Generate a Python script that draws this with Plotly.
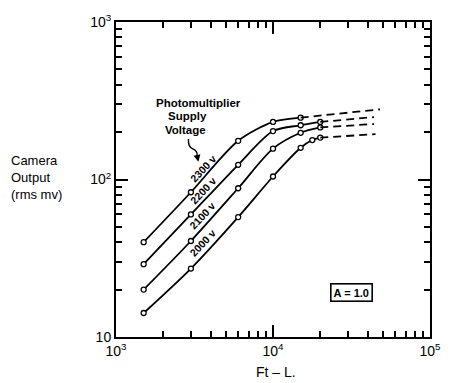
import plotly.graph_objects as go
import numpy as np

# ---- data ----
x_2300 = [1500, 3000, 6000, 10000, 15000]
y_2300 = [40, 83, 176, 232, 247]
x_2200 = [1500, 3000, 6000, 10000, 15000, 20000]
y_2200 = [29, 60, 124, 203, 221, 232]
x_2100 = [1500, 3000, 6000, 10000, 15000, 20000]
y_2100 = [20, 40.7, 88, 157, 198, 214]
x_2000 = [1500, 3000, 6000, 10000, 15000, 17800, 20000]
y_2000 = [14.2, 27.2, 57.7, 104.5, 159, 178, 184.5]

# dashed extrapolations (end points)
ext_x = {"2300": 48000, "2200": 44000, "2100": 44000, "2000": 45000}
ext_y = {"2300": 279, "2200": 249, "2100": 225, "2000": 194}

series_names = ["2300", "2200", "2100", "2000"]
series_labels = ["2300 v", "2200 v", "2100 v", "2000 v"]

x_tickvals = [1e3, 1e4, 1e5]
x_ticktext = ["10<sup>3</sup>", "10<sup>4</sup>", "10<sup>5</sup>"]
y_tickvals = [10, 100, 1000]
y_ticktext = ["10", "10<sup>2</sup>", "10<sup>3</sup>"]

series = {
    "2300": (x_2300, y_2300),
    "2200": (x_2200, y_2200),
    "2100": (x_2100, y_2100),
    "2000": (x_2000, y_2000),
}

# ---- layout helpers (pixel -> paper) ----
W, H = 453, 383
L, R, T, B = 116, 439, 20.5, 337
def px(p):
    return (p - L) / (R - L)
def py(p):
    return (B - p) / (B - T)

fig = go.Figure()
for name in series_names:
    xs, ys = series[name]
    fig.add_trace(go.Scatter(
        x=xs, y=ys, mode="lines+markers",
        line=dict(color="black", width=1.8, shape="spline", smoothing=0.8),
        marker=dict(symbol="circle", size=5, color="white",
                    line=dict(color="black", width=1.3)),
        showlegend=False, hoverinfo="skip"))
    fig.add_trace(go.Scatter(
        x=[xs[-1], ext_x[name]], y=[ys[-1], ext_y[name]], mode="lines",
        line=dict(color="black", width=1.8, dash="8px,5px"),
        showlegend=False, hoverinfo="skip"))

minor_x = [v * m for v in (1e3, 1e4) for m in range(2, 10)]
minor_y = [v * m for v in (10, 100) for m in range(2, 10)]

axis_common = dict(
    type="log", showgrid=False, zeroline=False,
    showline=True, linecolor="black", linewidth=2,
    ticks="inside", ticklen=12, tickwidth=1.6, tickcolor="black",
    mirror="allticks", tickmode="array",
    tickfont=dict(family="Liberation Sans", size=14, color="black"),
)

fig.update_xaxes(**axis_common, range=[3, 5],
                 tickvals=x_tickvals, ticktext=x_ticktext,
                 minor=dict(tickmode="array", tickvals=minor_x, ticks="inside",
                            ticklen=6, tickwidth=1.6, tickcolor="black"))
fig.update_yaxes(**axis_common, range=[1, 3],
                 tickvals=y_tickvals, ticktext=y_ticktext,
                 minor=dict(tickmode="array", tickvals=minor_y, ticks="inside",
                            ticklen=6, tickwidth=1.6, tickcolor="black"))

def note(text, cx, cy, **kw):
    d = dict(x=px(cx), y=py(cy), xref="paper", yref="paper",
             xanchor="center", yanchor="middle", text=text, showarrow=False)
    d.update(kw)
    return d

ann = []
# axis titles
ann.append(note("Ft \u2013 L.", 281, 372,
                font=dict(family="Liberation Sans", size=14, color="black")))
ann.append(note("Camera<br>Output<br>(rms mv)", 6, 177, xanchor="left", align="left",
                font=dict(family="Liberation Sans", size=13, color="black")))
# legend-like text
for txt, cx, cy in [("Photomultiplier", 201, 102), ("Supply", 190, 115), ("Voltage", 188, 129)]:
    ann.append(note("<b>%s</b>" % txt, cx, cy,
                    font=dict(family="Liberation Sans", size=11.5, color="black")))
# rotated voltage labels
for txt, cx, cy in zip(series_labels, [205, 205, 204, 205], [168, 190, 215, 243]):
    ann.append(note("<b>%s</b>" % txt, cx, cy, textangle=-47,
                    font=dict(family="Liberation Sans", size=10.5, color="black")))
# arrow head of squiggle
ann.append(dict(x=px(200.8), y=py(161), xref="paper", yref="paper",
                ax=-1.5, ay=-7, axref="pixel", ayref="pixel",
                showarrow=True, arrowhead=2, arrowsize=1, arrowwidth=1.4,
                arrowcolor="black", text=""))
# A = 1.0 box
ann.append(note("<b>A = 1.0</b>", 358.5, 292.5,
                bordercolor="black", borderwidth=1.6, borderpad=2,
                font=dict(family="Liberation Sans", size=11, color="black")))

path = "M %f %f Q %f %f %f %f Q %f %f %f %f" % (
    px(190.5), py(138), px(190), py(146), px(195), py(148),
    px(200), py(150), px(199.5), py(155))
fig.update_layout(
    width=W, height=H,
    margin=dict(l=L, r=W - R, t=T, b=H - B),
    paper_bgcolor="white", plot_bgcolor="white",
    annotations=ann,
    shapes=[dict(type="path", xref="paper", yref="paper", path=path,
                 line=dict(color="black", width=1.4))],
)

fig.write_html("out.html")
